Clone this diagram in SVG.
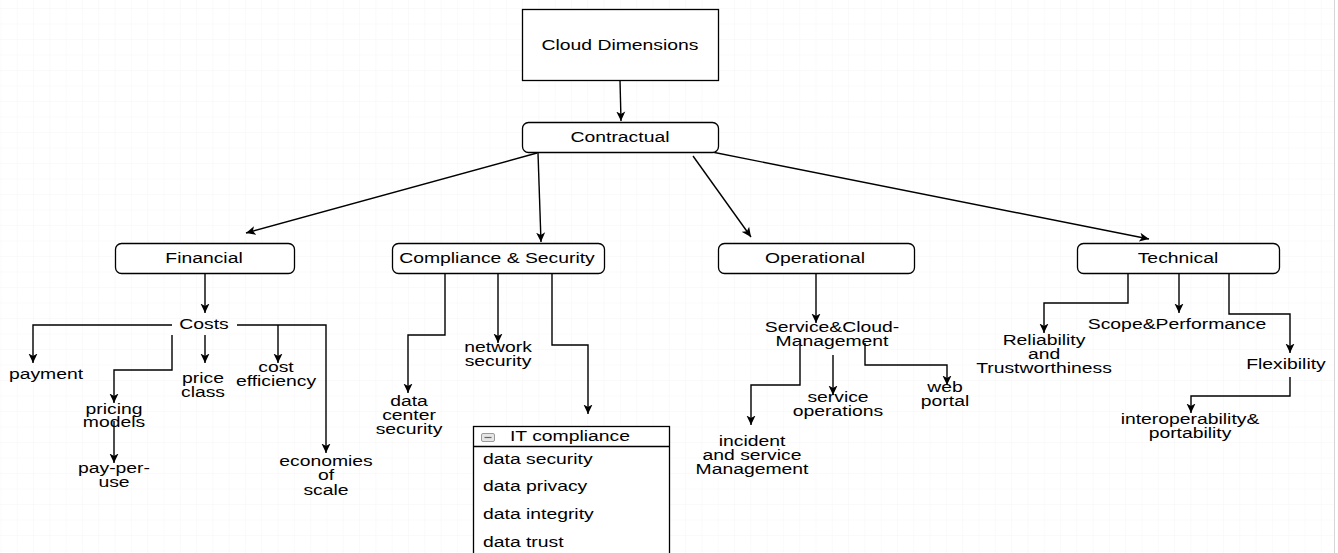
<svg xmlns="http://www.w3.org/2000/svg" width="1338" height="553" viewBox="0 0 1338 553">
  <defs>
    <pattern id="grid" width="16.3" height="15.5" patternUnits="userSpaceOnUse" x="0.5" y="8">
      <path d="M0,0 H16.3 M0,0 V15.5" fill="none" stroke="#f5f5f5" stroke-width="1"/>
    </pattern>
    <marker id="arr" viewBox="0 0 10 10" refX="9.5" refY="5" markerWidth="10" markerHeight="10" markerUnits="userSpaceOnUse" orient="auto">
      <path d="M0,0.5 L9.5,5 L0,9.5 L2.4,5 Z" fill="#000"/>
    </marker>
    <style>
      .box { fill: #fff; stroke: #000; stroke-width: 1.3; }
      .edge { fill: none; stroke: #000; stroke-width: 1.4; marker-end: url(#arr); }
      text { font-family: "Liberation Sans", Arial, Helvetica, sans-serif; font-size: 15px; fill: #000; }
      .c { text-anchor: middle; }
    </style>
  </defs>

  <!-- canvas -->
  <rect x="0" y="0" width="1338" height="553" fill="#fff"/>
  <rect x="0" y="0" width="1334" height="553" fill="url(#grid)"/>
  <line x1="1334.5" y1="0" x2="1334.5" y2="553" stroke="#d6d6d6" stroke-width="1"/>

  <!-- connectors -->
  <g id="connectors">
    <path class="edge" d="M620,80 L621,121"/>
    <path class="edge" d="M537,153 L246,233"/>
    <path class="edge" d="M538,153 L541,242"/>
    <path class="edge" d="M693,156 L751,237"/>
    <path class="edge" d="M712,152 L1149,239"/>

    <!-- financial -->
    <path class="edge" d="M205,273 V313"/>
    <path class="edge" d="M172,325 H33 V363"/>
    <path class="edge" d="M172,335 V370 H114 V403"/>
    <path class="edge" d="M114,421 V463"/>
    <path class="edge" d="M205,335 V363"/>
    <path class="edge" d="M237,325 H326 V453"/>
    <path class="edge" d="M278,325 V363"/>

    <!-- compliance & security -->
    <path class="edge" d="M445,273 V335 H408 V393"/>
    <path class="edge" d="M498,273 V343"/>
    <path class="edge" d="M552,273 V345 H588 V414"/>

    <!-- operational -->
    <path class="edge" d="M816,273 V323"/>
    <path class="edge" d="M800,345 V385 H751 V425"/>
    <path class="edge" d="M833,355 V395"/>
    <path class="edge" d="M865,343 V365 H947 V385"/>

    <!-- technical -->
    <path class="edge" d="M1128,273 V303 H1044 V333"/>
    <path class="edge" d="M1179,273 V313"/>
    <path class="edge" d="M1229,273 V314 H1290 V353"/>
    <path class="edge" d="M1290,377 V396 H1191 V413"/>
  </g>

  <!-- top nodes -->
  <g id="cloud-dimensions">
    <rect class="box" x="522.5" y="9.5" width="196" height="71"/>
    <text class="c" transform="translate(620 50) scale(1.29 1)">Cloud Dimensions</text>
  </g>
  <g id="contractual">
    <rect class="box" x="522.5" y="122.5" width="196" height="30" rx="6"/>
    <text class="c" transform="translate(620 142) scale(1.29 1)">Contractual</text>
  </g>

  <!-- second level -->
  <g id="financial">
    <rect class="box" x="115.5" y="243.5" width="179" height="30" rx="6"/>
    <text class="c" transform="translate(204 263) scale(1.29 1)">Financial</text>
  </g>
  <g id="compliance-security">
    <rect class="box" x="392.5" y="243.5" width="212" height="30" rx="6"/>
    <text class="c" transform="translate(497 263) scale(1.29 1)">Compliance &amp; Security</text>
  </g>
  <g id="operational">
    <rect class="box" x="718.5" y="243.5" width="196" height="30" rx="6"/>
    <text class="c" transform="translate(815 263) scale(1.29 1)">Operational</text>
  </g>
  <g id="technical">
    <rect class="box" x="1077.5" y="243.5" width="202" height="30" rx="6"/>
    <text class="c" transform="translate(1178 263) scale(1.29 1)">Technical</text>
  </g>

  <!-- financial leaves -->
  <g id="costs"><text class="c" transform="translate(204 329) scale(1.29 1)">Costs</text></g>
  <g id="payment"><text class="c" transform="translate(46 379) scale(1.29 1)">payment</text></g>
  <g id="pricing-models"><text class="c" transform="translate(114 414) scale(1.29 1)"><tspan x="0" y="0">pricing</tspan><tspan x="0" y="13">models</tspan></text></g>
  <g id="pay-per-use"><text class="c" transform="translate(114 473) scale(1.29 1)"><tspan x="0" y="0">pay-per-</tspan><tspan x="0" y="14">use</tspan></text></g>
  <g id="price-class"><text class="c" transform="translate(203 383) scale(1.29 1)"><tspan x="0" y="0">price</tspan><tspan x="0" y="14">class</tspan></text></g>
  <g id="cost-efficiency"><text class="c" transform="translate(276 372) scale(1.29 1)"><tspan x="0" y="0">cost</tspan><tspan x="0" y="14">efficiency</tspan></text></g>
  <g id="economies-of-scale"><text class="c" transform="translate(326 466) scale(1.29 1)"><tspan x="0" y="0">economies</tspan><tspan x="0" y="14.5">of</tspan><tspan x="0" y="29">scale</tspan></text></g>

  <!-- compliance leaves -->
  <g id="data-center-security"><text class="c" transform="translate(409 406) scale(1.29 1)"><tspan x="0" y="0">data</tspan><tspan x="0" y="14">center</tspan><tspan x="0" y="28">security</tspan></text></g>
  <g id="network-security"><text class="c" transform="translate(498 352) scale(1.29 1)"><tspan x="0" y="0">network</tspan><tspan x="0" y="14">security</tspan></text></g>
  <g id="it-compliance">
    <rect class="box" x="473.5" y="426.5" width="196" height="140"/>
    <line x1="473.5" y1="446.5" x2="669.5" y2="446.5" stroke="#000" stroke-width="1.3"/>
    <rect x="481.5" y="433.5" width="13" height="8" rx="1.5" fill="#e6e6e6" stroke="#9a9a9a" stroke-width="1"/>
    <line x1="484.5" y1="437.5" x2="491.5" y2="437.5" stroke="#666" stroke-width="1.2"/>
    <text transform="translate(510 441) scale(1.29 1)">IT compliance</text>
    <text transform="translate(483 464) scale(1.29 1)">data security</text>
    <text transform="translate(483 491) scale(1.29 1)">data privacy</text>
    <text transform="translate(483 519) scale(1.29 1)">data integrity</text>
    <text transform="translate(483 547) scale(1.29 1)">data trust</text>
  </g>

  <!-- operational leaves -->
  <g id="service-cloud-management"><text class="c" transform="translate(832 332) scale(1.29 1)"><tspan x="0" y="0">Service&amp;Cloud-</tspan><tspan x="0" y="14">Management</tspan></text></g>
  <g id="incident-service-management"><text class="c" transform="translate(752 446) scale(1.29 1)"><tspan x="0" y="0">incident</tspan><tspan x="0" y="14">and service</tspan><tspan x="0" y="28">Management</tspan></text></g>
  <g id="service-operations"><text class="c" transform="translate(838 402) scale(1.29 1)"><tspan x="0" y="0">service</tspan><tspan x="0" y="14">operations</tspan></text></g>
  <g id="web-portal"><text class="c" transform="translate(945 392) scale(1.29 1)"><tspan x="0" y="0">web</tspan><tspan x="0" y="14">portal</tspan></text></g>

  <!-- technical leaves -->
  <g id="reliability"><text class="c" transform="translate(1044 345) scale(1.29 1)"><tspan x="0" y="0">Reliability</tspan><tspan x="0" y="14">and</tspan><tspan x="0" y="28">Trustworthiness</tspan></text></g>
  <g id="scope-performance"><text class="c" transform="translate(1177 329) scale(1.29 1)">Scope&amp;Performance</text></g>
  <g id="flexibility"><text class="c" transform="translate(1286 369) scale(1.29 1)">Flexibility</text></g>
  <g id="interoperability-portability"><text class="c" transform="translate(1190 424) scale(1.29 1)"><tspan x="0" y="0">interoperability&amp;</tspan><tspan x="0" y="14">portability</tspan></text></g>
</svg>
